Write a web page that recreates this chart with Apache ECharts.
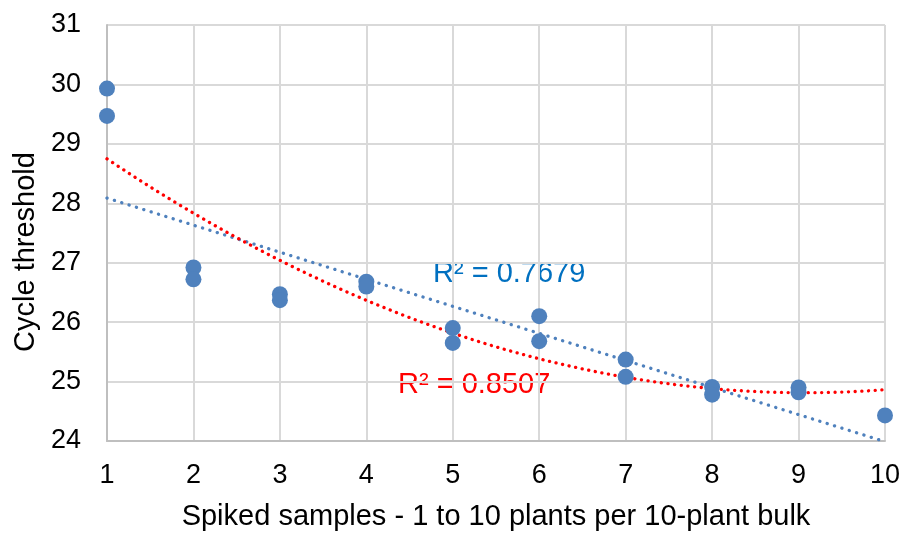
<!DOCTYPE html>
<html>
<head>
<meta charset="utf-8">
<script src="https://cdn.jsdelivr.net/npm/echarts@6/dist/echarts.min.js"></script>
<style>
html,body{margin:0;padding:0;background:#fff;}
#chart{width:906px;height:536px;}
</style>
</head>
<body>
<div id="chart"></div>
<script>
// ---- data ----
const spikedPlants = [1,1,2,2,3,3,4,4,5,5,6,6,7,7,8,8,9,9,10];
const cycleThreshold = [29.93,29.47,26.92,26.72,26.47,26.37,26.68,26.60,25.90,25.65,26.10,25.68,25.37,25.08,24.91,24.78,24.90,24.82,24.43];
const xTicks = [1,2,3,4,5,6,7,8,9,10];
const yTicks = [24,25,26,27,28,29,30,31];
const r2Linear = 'R\u00B2 = 0.7679';
const r2Poly = 'R\u00B2 = 0.8507';
const xTitle = 'Spiked samples - 1 to 10 plants per 10-plant bulk';
const yTitle = 'Cycle threshold';

// ---- least-squares trendlines (as Excel computes them) ----
function linearFit(x, y) {
  const n = x.length;
  let sx=0, sy=0, sxx=0, sxy=0;
  for (let i=0;i<n;i++){sx+=x[i];sy+=y[i];sxx+=x[i]*x[i];sxy+=x[i]*y[i];}
  const b = (n*sxy - sx*sy)/(n*sxx - sx*sx);
  const a = (sy - b*sx)/n;
  return t => a + b*t;
}
function quadFit(x, y) {
  const S = [0,0,0,0,0], T = [0,0,0];
  for (let i=0;i<x.length;i++){
    let p=1;
    for (let k=0;k<5;k++){S[k]+=p; if(k<3) T[k]+=p*y[i]; p*=x[i];}
  }
  const M = [[S[0],S[1],S[2],T[0]],[S[1],S[2],S[3],T[1]],[S[2],S[3],S[4],T[2]]];
  for (let c=0;c<3;c++){
    for (let r=c+1;r<3;r++){
      const f = M[r][c]/M[c][c];
      for (let k=c;k<4;k++) M[r][k]-=f*M[c][k];
    }
  }
  const coef=[0,0,0];
  for (let r=2;r>=0;r--){
    let s=M[r][3];
    for (let k=r+1;k<3;k++) s-=M[r][k]*coef[k];
    coef[r]=s/M[r][r];
  }
  return t => coef[0] + coef[1]*t + coef[2]*t*t;
}
const lin = linearFit(spikedPlants, cycleThreshold);
const quad = quadFit(spikedPlants, cycleThreshold);
const xMin = xTicks[0], xMax = xTicks[xTicks.length-1];
const linLine = [], quadLine = [];
for (let i=0;i<=180;i++){
  const t = xMin + (xMax-xMin)*i/180;
  linLine.push([t, lin(t)]);
  quadLine.push([t, quad(t)]);
}

const FONT = '"Liberation Sans", Arial, sans-serif';
const chart = echarts.init(document.getElementById('chart'), null, {renderer:'canvas'});
chart.setOption({
  animation:false,
  backgroundColor:'#ffffff',
  grid:{left:107, right:21, top:25, bottom:92, containLabel:false},
  xAxis:{
    type:'value', min:xMin, max:xMax, interval:1,
    name:xTitle, nameLocation:'middle', nameGap:61,
    nameTextStyle:{fontFamily:FONT, fontSize:29, color:'#000'},
    axisLine:{show:true, onZero:false, lineStyle:{color:'#bfbfbf', width:2}},
    axisTick:{show:false},
    axisLabel:{fontFamily:FONT, fontSize:27, color:'#000', margin:21},
    splitLine:{show:true, lineStyle:{color:'#d9d9d9', width:2}}
  },
  yAxis:{
    type:'value', min:yTicks[0], max:yTicks[yTicks.length-1], interval:1,
    name:yTitle, nameLocation:'middle', nameGap:67, nameRotate:90,
    nameTextStyle:{fontFamily:FONT, fontSize:29, color:'#000', padding:[0,38,0,0]},
    axisLine:{show:true, onZero:false, lineStyle:{color:'#bfbfbf', width:2}},
    axisTick:{show:false},
    axisLabel:{fontFamily:FONT, fontSize:27, color:'#000', margin:26},
    splitLine:{show:true, lineStyle:{color:'#d9d9d9', width:2}}
  },
  series:[
    {
      type:'line', name:'Linear trend', data:linLine, showSymbol:false, symbol:'none',
      lineStyle:{color:'#4F81BD', width:3.3, type:[0.1,7.6], cap:'round'}, z:3, silent:true
    },
    {
      type:'line', name:'Poly trend', data:quadLine, showSymbol:false, symbol:'none',
      lineStyle:{color:'#FF0000', width:3.3, type:[0.1,6.6], cap:'round'}, z:3, silent:true
    },
    {
      type:'scatter', name:'Ct',
      data:spikedPlants.map((x,i)=>[x, cycleThreshold[i]]),
      symbol:'circle', symbolSize:16,
      itemStyle:{color:'#4F81BD', opacity:1}, z:4
    }
  ],
  graphic:[
    {type:'text', left:433, top:259, style:{text:r2Linear, font:'29px '+FONT, fill:'#0070C0'}},
    {type:'text', left:398, top:370, style:{text:r2Poly, font:'29px '+FONT, fill:'#FF0000'}}
  ]
});
</script>
</body>
</html>
